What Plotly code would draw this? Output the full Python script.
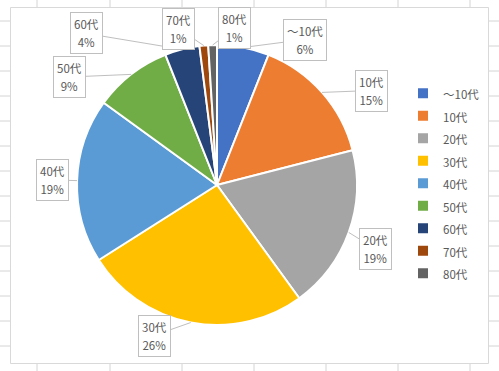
import math
import plotly.graph_objects as go

# ---- data ----
labels = ["～10代", "10代", "20代", "30代", "40代", "50代", "60代", "70代", "80代"]
shares = [6, 15, 19, 26, 19, 9, 4, 1, 1]
colors = ["#4472C4", "#ED7D31", "#A5A5A5", "#FFC000", "#5B9BD5",
          "#70AD47", "#264478", "#9E480E", "#636363"]

# ---- layout constants (pixels) ----
W, H = 499, 371
CX, CY, R = 217, 185, 140
TEXT = "#595959"
FONT = "Noto Sans CJK JP"
# callout box centres (pixel positions of the label boxes)
box_pos = [(304.5, 39.5), (371, 90.5), (375.5, 249), (154, 335.5), (52, 180),
           (69.5, 77), (86.5, 33.5), (178.5, 28.5), (234, 28.5)]
grid_x = [37, 110, 182, 254, 326, 398, 470]
grid_y = [21, 46, 71, 96, 121, 146, 171, 196, 221, 246, 271, 296, 321, 346]


def px(x):
    return x / W


def py(y):
    return 1 - y / H


def small(t, size=11.5):
    return f'<span style="font-size:{size}px">{t}</span>'


fig = go.Figure()
fig.add_trace(go.Pie(
    labels=[small(l) for l in labels],
    values=shares,
    sort=False,
    direction="clockwise",
    rotation=0,
    marker=dict(colors=colors, line=dict(color="white", width=2)),
    textinfo="none",
    hoverinfo="skip",
    domain=dict(x=[px(CX - R), px(CX + R)], y=[py(CY + R), py(CY - R)]),
    showlegend=True,
))

shapes = []
for gx in grid_x:
    shapes.append(dict(type="line", xref="paper", yref="paper", x0=px(gx), x1=px(gx),
                       y0=0, y1=1, line=dict(color="#d4d4d4", width=1), layer="below"))
for gy in grid_y:
    shapes.append(dict(type="line", xref="paper", yref="paper", x0=0, x1=1,
                       y0=py(gy), y1=py(gy), line=dict(color="#d4d4d4", width=1), layer="below"))
shapes.append(dict(type="rect", xref="paper", yref="paper", x0=px(10.5), x1=px(488.5),
                   y0=py(363.5), y1=py(7.5), fillcolor="white",
                   line=dict(color="#d9d9d9", width=1), layer="below"))

# callout labels, tips placed on the slice edge at each slice's mid-angle
total = sum(shares)
annotations = []
cum = 0
for lab, v, (bx, by) in zip(labels, shares, box_pos):
    mid = (cum + v / 2) / total * 2 * math.pi
    cum += v
    tx = CX + R * math.sin(mid)
    ty = CY - R * math.cos(mid)
    pct = round(v / total * 100)
    annotations.append(dict(
        x=px(tx), y=py(ty), xref="paper", yref="paper",
        ax=bx - tx, ay=by - ty,
        text=small(lab) + "<br>" + small(f"{pct}%"),
        showarrow=True, arrowhead=0, arrowwidth=1, arrowcolor="#bfbfbf",
        standoff=0, startstandoff=0,
        font=dict(family=FONT, size=14, color=TEXT),
        bgcolor="white", bordercolor="#bfbfbf", borderwidth=1, borderpad=3,
    ))

fig.update_layout(
    width=W, height=H,
    margin=dict(l=0, r=0, t=0, b=0),
    paper_bgcolor="white",
    plot_bgcolor="white",
    font=dict(family=FONT, color=TEXT),
    shapes=shapes,
    annotations=annotations,
    legend=dict(x=px(403), xanchor="left", y=py(77), yanchor="top",
                font=dict(family=FONT, size=15, color=TEXT),
                bgcolor="rgba(0,0,0,0)", traceorder="normal"),
)

fig.write_html("out.html", config={"displayModeBar": False},
               post_script="document.body.style.margin='0';")
